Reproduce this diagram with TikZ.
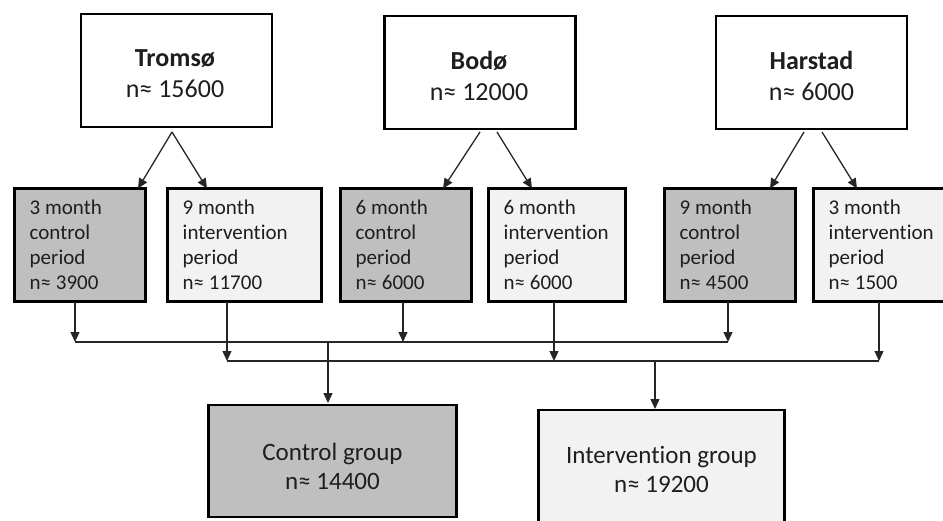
\documentclass[tikz,border=0pt]{standalone}
\usepackage{fontspec}
\setmainfont[Ligatures=NoCommon]{Carlito}
\usetikzlibrary{arrows.meta,calc}
\definecolor{darkfill}{RGB}{191,191,191}
\definecolor{lightfill}{RGB}{242,242,242}
\definecolor{txt}{RGB}{30,30,30}
\begin{document}
\begin{tikzpicture}[x=1pt,y=-1pt,
  boxbase/.style={draw=black,line width=2.6pt,rectangle,inner sep=0pt,outer sep=0pt},
  topbox/.style={boxbase,fill=white,minimum width=191pt,minimum height=113pt},
  midbox/.style={boxbase,minimum height=113pt},
  botbox/.style={boxbase,minimum height=112pt},
  ctrl/.style={fill=darkfill},
  intv/.style={fill=lightfill},
  toptext/.style={align=center,inner sep=0pt,text=txt,font=\fontsize{26pt}{31pt}\selectfont},
  midtext/.style={align=left,inner sep=0pt,anchor=north west,text=txt,font=\fontsize{21pt}{25pt}\selectfont},
  bottext/.style={align=center,inner sep=0pt,text=txt,font=\fontsize{25pt}{29pt}\selectfont},
  conn/.style={line width=1.3pt,draw=black!85},
  arr/.style={conn,-{Triangle[length=10pt,width=9pt]}}
]
\clip (0,0) rectangle (943,520);
\useasboundingbox (0,0) rectangle (943,520);

% top boxes
\node[topbox] (t1) at (176.5,70.5) {};
\node[topbox] (t2) at (480,72.5) {};
\node[topbox] (t3) at (811.5,72.5) {};
\node[toptext] (t1l) at ([xshift=-1.5pt,yshift=-3pt]t1.center) {\textbf{Tromsø}\\n≈ 15600};
\node[toptext] (t2l) at ([xshift=-1pt,yshift=-3pt]t2.center) {\textbf{Bodø}\\n≈ 12000};
\node[toptext] (t3l) at ([xshift=0pt,yshift=-3pt]t3.center) {\textbf{Harstad}\\n≈ 6000};

% middle boxes
\node[midbox,ctrl,minimum width=131pt] (m1) at (80,245) {};
\node[midbox,intv,minimum width=154pt] (m2) at (244.5,245) {};
\node[midbox,ctrl,minimum width=131pt] (m3) at (406,245) {};
\node[midbox,intv,minimum width=137pt] (m4) at (557,245) {};
\node[midbox,ctrl,minimum width=131pt] (m5) at (730,245) {};
\node[midbox,intv,minimum width=131pt] (m6) at (879,245) {};

\node[midtext] (m1l) at ([xshift=15pt,yshift=-11pt]m1.north west) {3 month\\control\\period\\n≈ 3900};
\node[midtext] (m2l) at ([xshift=15pt,yshift=-11pt]m2.north west) {9 month\\intervention\\period\\n≈ 11700};
\node[midtext] (m3l) at ([xshift=15pt,yshift=-11pt]m3.north west) {6 month\\control\\period\\n≈ 6000};
\node[midtext] (m4l) at ([xshift=15pt,yshift=-11pt]m4.north west) {6 month\\intervention\\period\\n≈ 6000};
\node[midtext] (m5l) at ([xshift=15pt,yshift=-11pt]m5.north west) {9 month\\control\\period\\n≈ 4500};
\node[midtext] (m6l) at ([xshift=15pt,yshift=-11pt]m6.north west) {3 month\\intervention\\period\\n≈ 1500};

% bottom boxes
\node[botbox,ctrl,minimum width=248pt] (cg) at (332.5,461) {};
\node[botbox,intv,minimum width=246pt,minimum height=113pt] (ig) at (661.5,466.5) {};
\node[bottext] (cgl) at ([yshift=-5pt]cg.center) {Control group\\n≈ 14400};
\node[bottext] (igl) at ([yshift=-3pt]ig.center) {Intervention group\\n≈ 19200};

% arrows top -> middle
\draw[arr] ([xshift=-4.5pt,yshift=-5pt]t1.south) -- ([xshift=58pt]m1.north);
\draw[arr] ([xshift=-4.5pt,yshift=-5pt]t1.south) -- ([xshift=-37.5pt]m2.north);
\draw[arr] ([yshift=-3pt]t2.south) -- ([xshift=37pt]m3.north);
\draw[arr] ([xshift=17pt,yshift=-3pt]t2.south) -- ([xshift=-25pt]m4.north);
\draw[arr] ([xshift=-7.5pt,yshift=-3pt]t3.south) -- ([xshift=40pt]m5.north);
\draw[arr] ([xshift=10.5pt,yshift=-3pt]t3.south) -- ([xshift=-22pt]m6.north);

% buses
\coordinate (cbus) at (0,342);
\coordinate (ibus) at (0,361);
\coordinate (d1) at ([xshift=-5pt]m1.south);
\coordinate (d2) at ([xshift=-17.5pt]m2.south);
\coordinate (d3) at ([xshift=-3pt]m3.south);
\coordinate (d4) at ([xshift=-3pt]m4.south);
\coordinate (d5) at ([xshift=-2pt]m5.south);
\coordinate (d6) at (m6.south);
\coordinate (cin) at ([xshift=-4.5pt]cg.north);
\coordinate (iin) at ([xshift=-6.5pt]ig.north);

\draw[arr] (d1) -- (d1 |- cbus);
\draw[arr] (d3) -- (d3 |- cbus);
\draw[arr] (d5) -- (d5 |- cbus);
\draw[conn] (d1 |- cbus) -- (d5 |- cbus);
\draw[arr] (d2) -- (d2 |- ibus);
\draw[arr] (d4) -- (d4 |- ibus);
\draw[arr] (d6) -- (d6 |- ibus);
\draw[conn] (d2 |- ibus) -- (d6 |- ibus);

\draw[arr] (cin |- cbus) -- ([yshift=2pt]cin);
\draw[arr] (iin |- ibus) -- ([yshift=1pt]iin);
\end{tikzpicture}
\end{document}
